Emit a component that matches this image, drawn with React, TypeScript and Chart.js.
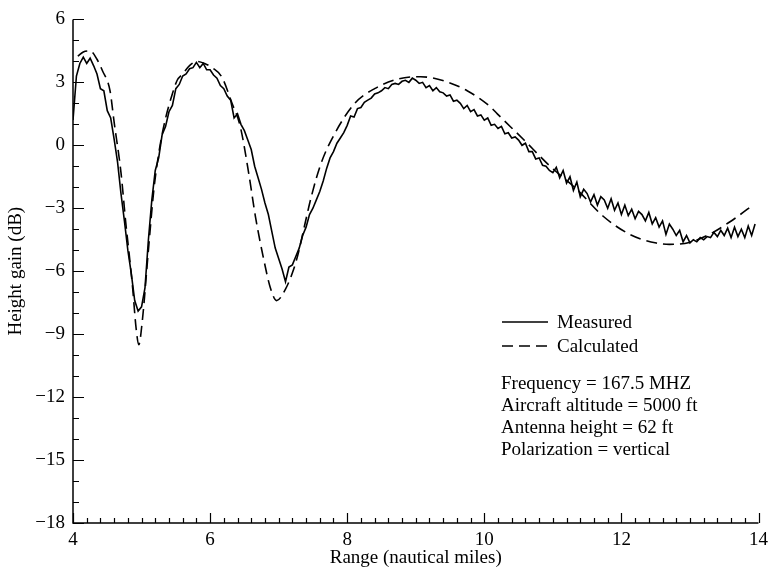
import React, { useEffect, useRef } from "react";
import { Chart, registerables } from "chart.js";

Chart.register(...registerables);

// ---- axis definitions ----
const RANGE_MIN = 4;
const RANGE_MAX = 14;
const GAIN_MIN = -18;
const GAIN_MAX = 6;
const X_TICKS = [4, 6, 8, 10, 12, 14];
const Y_TICKS = [-18, -15, -12, -9, -6, -3, 0, 3, 6];
const X_MINOR_STEP = 0.2;
const Y_MINOR_STEP = 1;

// ---- measured series (sampled every 0.05 nmi from 4.00) ----
const MEASURED_START = 4.0;
const MEASURED_STEP = 0.05;
const measuredGain = [
  1.2, 3.3, 3.9, 4.2, 3.9, 4.15, 3.8, 3.4, 2.7, 2.6,
  1.65, 1.3, 0.3, -0.8, -2.3, -3.6, -5.0, -6.1, -7.4, -7.9,
  -7.7, -6.8, -4.5, -2.6, -1.2, -0.6, 0.5, 0.9, 1.6, 1.9,
  2.7, 2.9, 3.3, 3.4, 3.65, 3.7, 3.95, 3.7, 3.9, 3.6,
  3.6, 3.35, 3.2, 2.85, 2.7, 2.35, 2.15, 1.3, 1.5, 1.0,
  0.7, 0.25, -0.2, -1.0, -1.55, -2.1, -2.75, -3.3, -4.1, -4.9,
  -5.4, -5.9, -6.5, -5.8, -5.7, -5.3, -4.9, -4.3, -3.9, -3.3,
  -3.0, -2.6, -2.2, -1.7, -1.1, -0.6, -0.3, 0.1, 0.35, 0.6,
  0.95, 1.4, 1.35, 1.75, 1.8, 2.05, 2.15, 2.25, 2.45, 2.5,
  2.6, 2.75, 2.7, 2.9, 2.95, 2.9, 3.05, 3.1, 3.0, 3.2,
  3.1, 2.95, 3.0, 2.75, 2.85, 2.6, 2.75, 2.55, 2.5, 2.35,
  2.4, 2.1, 2.15, 2.0, 1.75, 1.9, 1.6, 1.7, 1.4, 1.45,
  1.2, 1.3, 0.95, 1.0, 0.8, 0.9, 0.55, 0.6, 0.35, 0.4,
  0.25, 0.0, 0.1, -0.3, -0.3, -0.65, -0.6, -0.95, -1.0, -1.2,
  -1.3, -1.05, -1.55, -1.2, -1.8, -1.5, -2.15, -1.75, -2.45, -2.1,
  -2.3, -2.7, -2.35, -2.85, -2.45, -2.6, -3.0, -2.55, -3.1, -2.75,
  -3.3, -2.85, -3.35, -3.05, -3.5, -3.15, -3.3, -3.6, -3.2, -3.75,
  -3.45, -3.9, -3.6, -4.25, -3.75, -4.0, -4.3, -4.05, -4.6, -4.3,
  -4.65, -4.5, -4.6, -4.4, -4.5, -4.35, -4.4, -4.15, -4.35, -4.05,
  -4.3, -3.95, -4.4, -3.9, -4.35, -4.0, -4.4, -3.85, -4.3, -3.75,
];

// ---- calculated series ----
const calculatedRange = [
  4.07, 4.15, 4.25, 4.35, 4.43, 4.54, 4.6, 4.7, 4.77, 4.82,
  4.87, 4.92, 4.96, 5.01, 5.1, 5.18, 5.25, 5.33, 5.45, 5.52,
  5.6, 5.7, 5.81, 5.92, 6.03, 6.17, 6.32, 6.44, 6.57, 6.66,
  6.78, 6.88, 6.97, 7.1, 7.22, 7.29, 7.38, 7.48, 7.62, 7.82,
  8.11, 8.4, 8.74, 9.07, 9.41, 9.75, 10.09, 10.19, 10.58, 10.96,
  11.35, 11.73, 12.12, 12.51, 12.7, 12.99, 13.33, 13.67, 13.93,
];
const calculatedGain = [
  4.25, 4.45, 4.5, 4.1, 3.55, 2.6, 1.1, -1.3, -3.7, -5.2,
  -6.8, -8.7, -9.5, -8.4, -5.0, -2.1, -0.4, 1.0, 2.46, 3.1,
  3.4, 3.8, 4.0, 3.9, 3.7, 3.26, 2.0, 0.9, -1.47, -3.37,
  -5.4, -6.8, -7.4, -6.85, -5.9, -5.1, -3.8, -2.4, -0.85, 0.57,
  2.0, 2.7, 3.16, 3.27, 3.07, 2.6, 1.83, 1.5, 0.25, -1.0,
  -2.1, -3.37, -4.24, -4.66, -4.72, -4.63, -4.16, -3.45, -2.82,
];

const SERIES_LABELS = ["Measured", "Calculated"];
const annotationLines = [
  "Frequency = 167.5 MHZ",
  "Aircraft altitude = 5000 ft",
  "Antenna height = 62 ft",
  "Polarization = vertical",
];

const FONT_FAMILY = '"Liberation Serif", "Times New Roman", Times, serif';
const FONT_SIZE = 19;
const LINE_DASH = [11, 6];

const fmt = (v: number) => (v < 0 ? "\u2212" + Math.abs(v) : String(v));

const inwardAxesPlugin = {
  id: "inwardAxes",
  afterDraw(chart: any) {
    const { ctx, chartArea: ca, scales } = chart;
    const xs = scales.x;
    const ys = scales.y;
    ctx.save();
    ctx.strokeStyle = "#000";
    ctx.lineWidth = 1.5;
    ctx.beginPath();
    ctx.moveTo(ca.left, ca.top);
    ctx.lineTo(ca.left, ca.bottom);
    ctx.lineTo(ca.right, ca.bottom);
    ctx.stroke();

    ctx.lineWidth = 1.2;
    ctx.beginPath();
    const nx = Math.round((RANGE_MAX - RANGE_MIN) / X_MINOR_STEP);
    for (let i = 0; i <= nx; i++) {
      const v = RANGE_MIN + i * X_MINOR_STEP;
      const px = Math.round(xs.getPixelForValue(v)) + 0.5;
      const major = X_TICKS.some((t) => Math.abs(t - v) < 1e-6);
      ctx.moveTo(px, ca.bottom);
      ctx.lineTo(px, ca.bottom - (major ? 10 : 5));
    }
    const ny = Math.round((GAIN_MAX - GAIN_MIN) / Y_MINOR_STEP);
    for (let i = 0; i <= ny; i++) {
      const v = GAIN_MIN + i * Y_MINOR_STEP;
      const py = Math.round(ys.getPixelForValue(v)) + 0.5;
      const major = Y_TICKS.some((t) => Math.abs(t - v) < 1e-6);
      ctx.moveTo(ca.left, py);
      ctx.lineTo(ca.left + (major ? 11 : 6), py);
    }
    ctx.stroke();

    // legend + annotation
    ctx.font = `${FONT_SIZE}px ${FONT_FAMILY}`;
    ctx.fillStyle = "#000";
    ctx.textBaseline = "middle";
    ctx.textAlign = "left";
    const lx0 = 502;
    const lx1 = 548;
    const rows = [322, 346];
    chart.data.datasets.forEach((ds: any, i: number) => {
      ctx.save();
      ctx.lineWidth = 1.6;
      ctx.setLineDash(ds.borderDash || []);
      ctx.beginPath();
      ctx.moveTo(lx0, rows[i]);
      ctx.lineTo(lx1, rows[i]);
      ctx.stroke();
      ctx.restore();
      ctx.fillText(ds.label, 557, rows[i] + 1);
    });
    annotationLines.forEach((t, i) => {
      ctx.fillText(t, 501, 384 + i * 22);
    });
    ctx.restore();
  },
};

export default function App() {
  const ref = useRef<HTMLCanvasElement | null>(null);
  useEffect(() => {
    if (!ref.current) return;
    const measured = measuredGain.map((g, i) => ({
      x: MEASURED_START + i * MEASURED_STEP,
      y: g,
    }));
    const calculated = calculatedRange.map((r, i) => ({ x: r, y: calculatedGain[i] }));
    const font = { family: FONT_FAMILY, size: FONT_SIZE };
    const chart = new Chart(ref.current, {
      type: "line",
      data: {
        datasets: [
          {
            label: SERIES_LABELS[0],
            data: measured,
            borderColor: "#000",
            borderWidth: 1.6,
            pointRadius: 0,
            tension: 0,
            fill: false,
          },
          {
            label: SERIES_LABELS[1],
            data: calculated,
            borderColor: "#000",
            borderWidth: 1.6,
            borderDash: LINE_DASH,
            pointRadius: 0,
            cubicInterpolationMode: "monotone",
            fill: false,
          },
        ],
      },
      options: {
        responsive: false,
        animation: false,
        layout: { padding: { top: 15, right: 11, left: 0, bottom: 0 } },
        plugins: { legend: { display: false }, tooltip: { enabled: false } },
        scales: {
          x: {
            type: "linear",
            min: RANGE_MIN,
            max: RANGE_MAX,
            grid: { display: false, drawTicks: false },
            border: { display: false },
            afterBuildTicks: (s: any) => {
              s.ticks = X_TICKS.map((v) => ({ value: v }));
            },
            afterFit: (s: any) => {
              s.height = 54;
            },
            ticks: {
              font,
              color: "#000",
              padding: 6,
              maxRotation: 0,
              autoSkip: false,
              callback: (v: any) => fmt(Number(v)),
            },
            title: {
              display: true,
              text: "Range (nautical miles)",
              font,
              color: "#000",
              padding: { top: 0, bottom: 8 },
            },
          },
          y: {
            type: "linear",
            min: GAIN_MIN,
            max: GAIN_MAX,
            grid: { display: false, drawTicks: false },
            border: { display: false },
            afterBuildTicks: (s: any) => {
              s.ticks = Y_TICKS.map((v) => ({ value: v }));
            },
            afterFit: (s: any) => {
              s.width = 73;
            },
            ticks: {
              font,
              color: "#000",
              padding: 8,
              autoSkip: false,
              callback: (v: any) => fmt(Number(v)),
            },
            title: {
              display: true,
              text: "Height gain (dB)",
              font,
              color: "#000",
              padding: { top: 5, bottom: 0 },
            },
          },
        },
      },
      plugins: [inwardAxesPlugin],
    });
    return () => chart.destroy();
  }, []);
  return (
    <div style={{ position: "absolute", left: 0, top: 0, width: 774, height: 577, background: "#fff" }}>
      <canvas ref={ref} width={774} height={577} style={{ display: "block" }} />
    </div>
  );
}
